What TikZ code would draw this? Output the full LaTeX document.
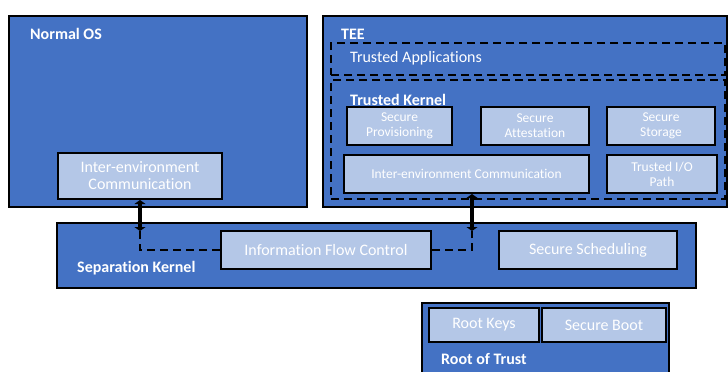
\documentclass[tikz,border=0pt]{standalone}
\usepackage{fontspec}
\setmainfont{Carlito}[Ligatures=NoCommon]
\usetikzlibrary{arrows.meta}
\definecolor{envblue}{HTML}{4472C4}
\definecolor{modblue}{HTML}{B4C7E7}
\tikzset{>={Triangle[length=4pt,width=11pt]}}
\tikzset{
  envbox/.style={draw=black,fill=envblue,line width=2pt,minimum width=#1},
  modbox/.style={draw=black,fill=modblue,line width=2pt,text=white,align=center,
    font=\fontsize{16}{17}\selectfont},
  smallmod/.style={modbox,font=\fontsize{13.5}{15}\selectfont},
  zone/.style={draw=black,line width=2pt,dash pattern=on 8pt off 5pt},
  envlabel/.style={anchor=west,text=white,font=\fontsize{16}{17}\selectfont\bfseries},
  flowarrow/.style={<->,line width=3.5pt},
  flowline/.style={line width=2pt,dash pattern=on 8pt off 5pt}
}

\begin{document}
\begin{tikzpicture}[x=1pt,y=-1pt,inner sep=0pt]
  \clip (0,0) rectangle (728,372);

  % Normal OS
  \node[envbox=298,minimum height=191] (nos) at (158,111.5) {};
  \node[envlabel] (noslabel) at (30,34) {Normal OS};
  \node[modbox,minimum width=164,minimum height=46] (nosiec) at (140,176)
    {Inter-environment\\Communication};

  % TEE
  \node[envbox=404,minimum height=191] (tee) at (525,111.5) {};
  \node[envlabel] (teelabel) at (341,34) {TEE};
  \node[zone,minimum width=394,minimum height=32] (apps) at (528,59) {};
  \node[anchor=west,text=white,font=\fontsize{16}{18}\selectfont] (appslabel) at (350,58)
    {Trusted Applications};
  \node[zone,minimum width=394,minimum height=119] (tk) at (528,139.5) {};
  \node[envlabel] (tklabel) at (350,100) {Trusted Kernel};

  % Trusted kernel modules
  \node[smallmod,minimum width=105,minimum height=38] (prov) at (399.5,126)
    {Secure\\Provisioning};
  \node[smallmod,minimum width=108,minimum height=38] (att) at (535,126)
    {Secure\\Attestation};
  \node[smallmod,minimum width=108,minimum height=38] (stor) at (661,126)
    {Secure\\Storage};
  \node[smallmod,minimum width=245,minimum height=38] (teeiec) at (466.5,174)
    {Inter-environment Communication};
  \node[smallmod,minimum width=110,minimum height=38] (tio) at (662,174)
    {Trusted I/O\\Path};

  % Separation kernel
  \node[envbox=639,minimum height=65] (sk) at (376.5,255.5) {};
  \node[envlabel] (sklabel) at (77,268) {Separation Kernel};
  \node[modbox,minimum width=210,minimum height=38] (ifc) at (326,250)
    {Information Flow Control};
  \node[modbox,minimum width=178,minimum height=38] (sched) at (588,250)
    {Secure Scheduling};

  % Root of trust
  \node[envbox=247,minimum height=77] (rot) at (545.5,341.5) {};
  \node[modbox,minimum width=110,minimum height=34] (keys) at (484,325) {Root Keys};
  \node[modbox,minimum width=124,minimum height=34] (boot) at (604,325) {Secure Boot};
  \node[envlabel] (rotlabel) at (441,359) {Root of Trust};

  % Communication path
  \coordinate (lhook) at (140,231);
  \coordinate (rhook) at (472,231);
  \draw[flowarrow] (nosiec.south) -- (lhook);
  \draw[flowarrow] (rhook |- teeiec.south) -- (rhook);
  \draw[flowline] (lhook) |- (ifc.west);
  \draw[flowline] (ifc.east) -| (rhook);
\end{tikzpicture}
\end{document}
